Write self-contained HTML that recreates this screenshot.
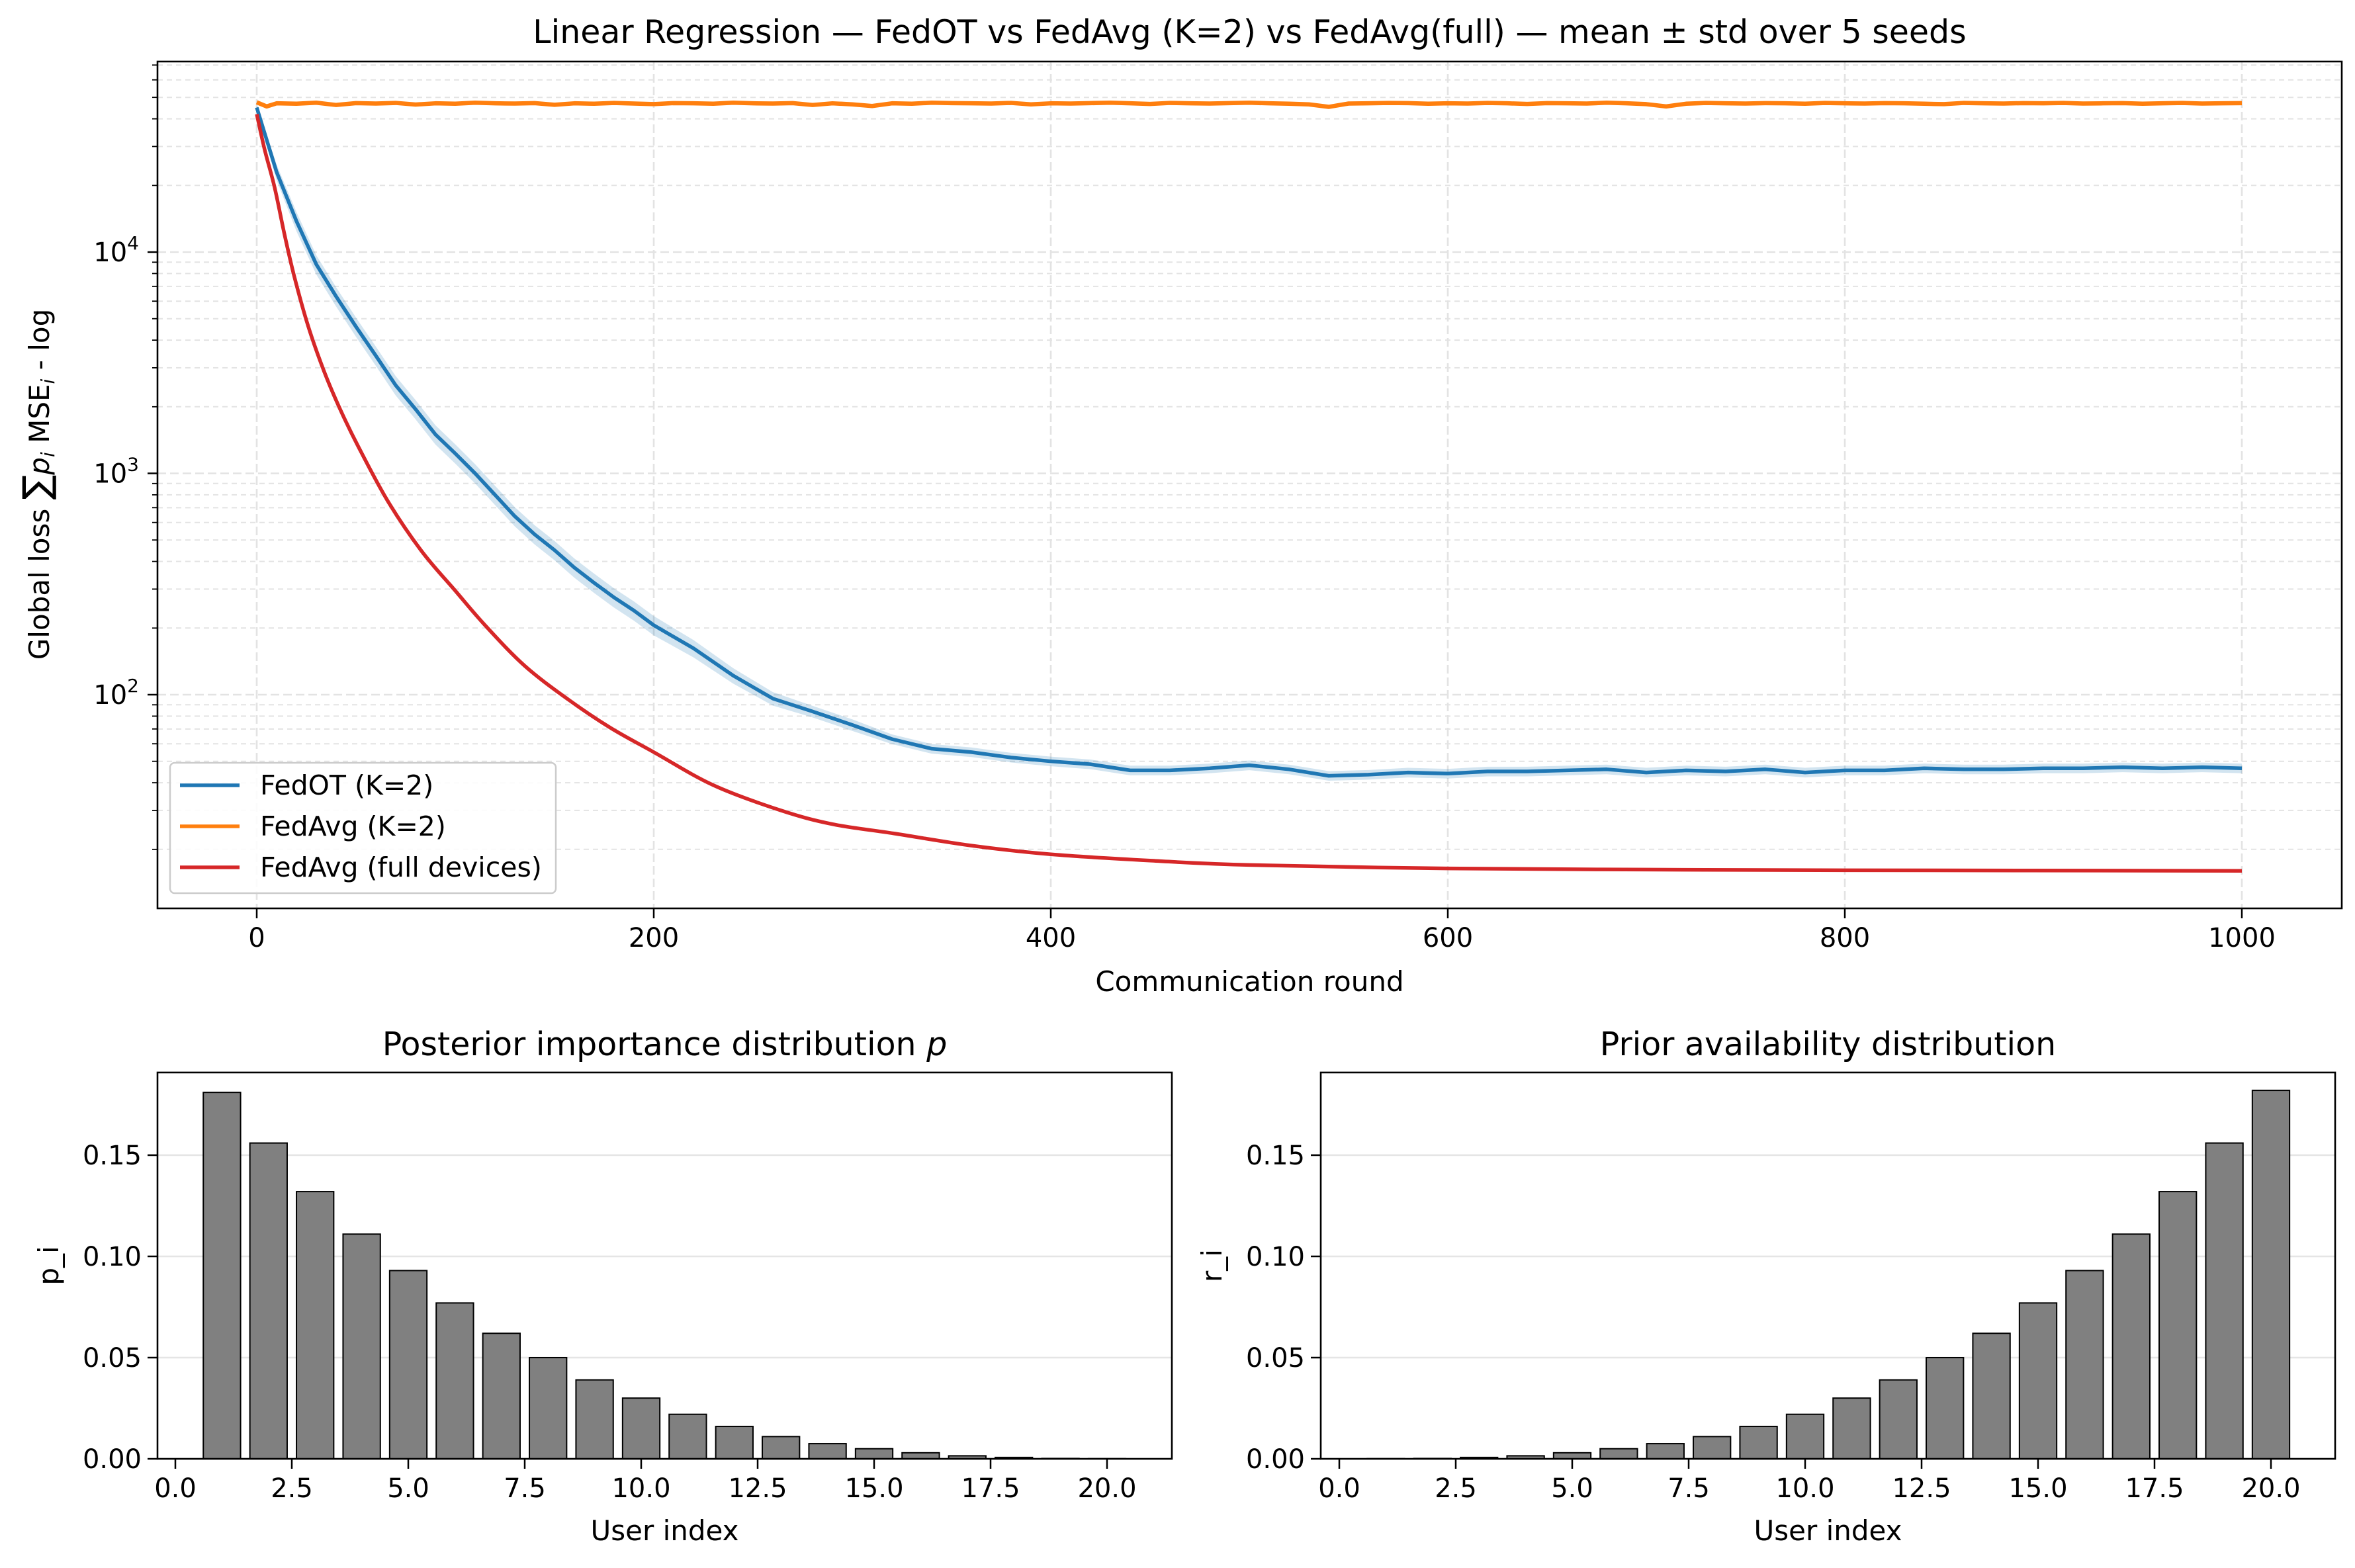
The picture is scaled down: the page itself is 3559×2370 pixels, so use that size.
<!DOCTYPE html>
<html><head><meta charset="utf-8"><style>
html,body{margin:0;padding:0;background:#fff}
svg text{font-family:"DejaVu Sans","Liberation Sans",sans-serif;fill:#000}
</style></head><body>
<svg id="fig" xmlns="http://www.w3.org/2000/svg" width="3559" height="2365" viewBox="0 0 3559 2365">
<rect width="3559" height="2365" fill="#fff"/>
<g id="top"></g>
<g id="bl"></g>
<g id="br"></g>
</svg>
<script>
// ---- top chart data ----
const fedotRounds = [0,10,20,30,40,50,60,70,80,90,100,110,120,130,140,150,160,170,180,190,200,220,240,260,280,300,320,340,360,380,400,420,440,460,480,500,520,540,560,580,600,620,640,660,680,700,720,740,760,780,800,820,840,860,880,900,920,940,960,980,1000];
const fedotMean = [45000,23000,13800,8800,6300,4600,3400,2500,1950,1500,1230,1000,800,640,530,450,375,320,275,240,206,162,122,96,84,73,63,57,55,52,50,48.5,45.5,45.5,46.5,48,46,43,43.5,44.5,44,45,45,45.5,46,44.5,45.5,45,46,44.5,45.5,45.5,46.5,46,46,46.5,46.5,47,46.5,47,46.5];
const fedotStdFrac = [0.04,0.08,0.1,0.1,0.1,0.1,0.1,0.1,0.1,0.1,0.1,0.1,0.1,0.1,0.1,0.1,0.1,0.1,0.1,0.1,0.1,0.09,0.08,0.07,0.06,0.06,0.05,0.05,0.05,0.05,0.05,0.05,0.05,0.05,0.05,0.05,0.05,0.05,0.05,0.05,0.05,0.05,0.05,0.05,0.05,0.05,0.05,0.05,0.05,0.05,0.05,0.05,0.05,0.05,0.05,0.05,0.05,0.05,0.05,0.05,0.05];
const avgRounds = [0,5,10,20,30,40,50,60,70,80,90,100,110,120,130,140,150,160,170,180,190,200,210,220,230,240,250,260,270,280,290,300,310,320,330,340,350,360,370,380,390,400,410,420,430,440,450,460,470,480,490,500,510,520,530,540,550,560,570,580,590,600,610,620,630,640,650,660,670,680,690,700,710,720,730,740,750,760,770,780,790,800,810,820,830,840,850,860,870,880,890,900,910,920,930,940,950,960,970,980,990,1000];
const avgMean = [47500,45500,47000,46800,47300,46200,47100,46900,47200,46400,47000,46800,47300,47000,46900,47100,46300,47000,46800,47200,46900,46600,47100,47000,46800,47300,47000,46900,47100,46200,47000,46500,45700,47000,46800,47300,47100,47000,46900,47200,46500,47000,46900,47100,47300,47000,46700,47200,47000,46900,47100,47300,47000,46800,46500,45300,46900,47000,47200,47100,46800,47000,46900,47200,47000,46700,47100,47000,46900,47300,47000,46600,45500,46800,47200,47000,46900,47100,47000,46800,47200,47000,46900,47100,47000,46800,46600,47200,47000,46900,47100,47000,47200,46900,47000,47100,46800,47000,47200,46900,47000,47100];
const fullRounds = [0,4,9,14,19,26,34,42,51,66,83,100,115,135,157,178,200,230,264,290,321,360,400,450,500,600,700,800,1000];
const fullMean = [42000,29000,19600,12000,7700,4600,2880,1950,1330,750,446,295,206,135,95,71,55,39,30,26,23.6,20.8,19.0,17.8,17.0,16.4,16.2,16.1,16.0];
const xTicks = [0,200,400,600,800,1000];
const yTickExp = [2,3,4];
// ---- bar data ----
const users = [1,2,3,4,5,6,7,8,9,10,11,12,13,14,15,16,17,18,19,20];
const pVals = [0.181,0.156,0.132,0.111,0.093,0.077,0.062,0.050,0.039,0.030,0.022,0.016,0.011,0.0075,0.005,0.003,0.0015,0.0007,0.0002,0.0001];
const rVals = [0.0001,0.0002,0.0007,0.0015,0.003,0.005,0.0075,0.011,0.016,0.022,0.030,0.039,0.050,0.062,0.077,0.093,0.111,0.132,0.156,0.182];
const barYTicks = [0.00,0.05,0.10,0.15];
const barXTicks = [0,2.5,5,7.5,10,12.5,15,17.5,20];

const NS="http://www.w3.org/2000/svg";
function mk(parent,tag,attrs,txt){const e=document.createElementNS(NS,tag);for(const k in attrs)e.setAttribute(k,attrs[k]);if(txt!==undefined)e.textContent=txt;parent.appendChild(e);return e;}

// ===== TOP =====
const T=document.getElementById('top');
const L=238,R=3539,TOP=93,BOT=1373;
const X=r=>388+r*3.0;
const Y=v=>381-(Math.log10(v)-4)*334.5;
for(let e=1;e<=4;e++){for(let m=1;m<=9;m++){const v=m*Math.pow(10,e);const y=Y(v);if(y<TOP||y>BOT)continue;
 const g=mk(T,'line',{x1:L,x2:R,y1:y,y2:y,stroke:'#e3e3e3','stroke-width':m===1?2.6:2,'stroke-dasharray':m===1?'13,6':'8,6'});
 
 
 const t=mk(T,'line',{x1:L,x2:L-(m===1?15:8),y1:y,y2:y,stroke:'#000','stroke-width':m===1?2.5:1.8});
 
 
}}
xTicks.forEach(r=>{const x=X(r);
 const g=mk(T,'line',{x1:x,x2:x,y1:TOP,y2:BOT,stroke:'#e3e3e3','stroke-width':2.6,'stroke-dasharray':'13,6'});
 
 
 const t=mk(T,'line',{x1:x,x2:x,y1:BOT,y2:BOT+15,stroke:'#000','stroke-width':2.5});
 
 
 const l=mk(T,'text',{x:x,y:BOT+58,'font-size':40,'text-anchor':'middle'},String(r));
 
 
});
yTickExp.forEach(e=>{const y=Y(Math.pow(10,e));
 const l=mk(T,'text',{x:L-28,y:y+14,'font-size':40,'text-anchor':'end'});
 
 
 mk(l,'tspan',{},'10');mk(l,'tspan',{dy:-18,'font-size':28},String(e));
});
function smooth(pts){let d='M'+pts[0][0]+','+pts[0][1];
 for(let i=0;i<pts.length-1;i++){const p0=pts[Math.max(0,i-1)],p1=pts[i],p2=pts[i+1],p3=pts[Math.min(pts.length-1,i+2)];
  const c1=[p1[0]+(p2[0]-p0[0])/6,p1[1]+(p2[1]-p0[1])/6],c2=[p2[0]-(p3[0]-p1[0])/6,p2[1]-(p3[1]-p1[1])/6];
  d+='C'+c1[0]+','+c1[1]+' '+c2[0]+','+c2[1]+' '+p2[0]+','+p2[1];}
 return d;}
// band
let up='',dn='';
fedotRounds.forEach((r,i)=>{up+=(i?'L':'M')+X(r)+','+Y(fedotMean[i]*(1+fedotStdFrac[i]));});
for(let i=fedotRounds.length-1;i>=0;i--){dn+='L'+X(fedotRounds[i])+','+Y(fedotMean[i]*(1-fedotStdFrac[i]));}
const band=mk(T,'path',{d:up+dn+'Z',fill:'#1f77b4','fill-opacity':0.2});


function line(rs,vs,color,name,w,sm){const pts=rs.map((r,i)=>[X(r),Y(vs[i])]);
 const d=sm?smooth(pts):pts.map((p,i)=>(i?'L':'M')+p[0]+','+p[1]).join('');
 const p=mk(T,'path',{d:d,fill:'none',stroke:color,'stroke-width':w,'stroke-linejoin':'round'});
 
 }
line(avgRounds,avgMean,'#ff7f0e','fedavg-k2-line',6.5,false);
line(fedotRounds,fedotMean,'#1f77b4','fedot-line',5.5,false);
line(fullRounds,fullMean,'#d62728','fedavg-full-line',5.5,true);
const fr=mk(T,'rect',{x:L,y:TOP,width:R-L,height:BOT-TOP,fill:'none',stroke:'#000','stroke-width':2.6});


const title=mk(T,'text',{x:(L+R)/2,y:65,'font-size':49,'text-anchor':'middle'},'Linear Regression — FedOT vs FedAvg (K=2) vs FedAvg(full) — mean ± std over 5 seeds');


const xl=mk(T,'text',{x:(L+R)/2,y:1498,'font-size':42,'text-anchor':'middle'},'Communication round');


const yl=mk(T,'text',{x:0,y:0,'font-size':42,'text-anchor':'middle',transform:'translate(74,732) rotate(-90)'});


mk(yl,'tspan',{},'Global loss ');mk(yl,'tspan',{'font-size':56},'∑');mk(yl,'tspan',{'font-style':'italic','font-size':42},'p');mk(yl,'tspan',{'font-size':28,'font-style':'italic',dy:8},'i');mk(yl,'tspan',{dy:-8},' MSE');mk(yl,'tspan',{'font-size':28,'font-style':'italic',dy:8},'i');mk(yl,'tspan',{dy:-8},' - log');
// legend
const lg=mk(T,'g',{});


mk(lg,'rect',{x:257,y:1153,width:583,height:197,rx:7,fill:'#fff','fill-opacity':0.85,stroke:'#ccc','stroke-width':2.5});
[['FedOT (K=2)','#1f77b4',1187],['FedAvg (K=2)','#ff7f0e',1249],['FedAvg (full devices)','#d62728',1311]].forEach(([t,c,y])=>{
 const e=mk(lg,'g',{});
 
 
 mk(e,'line',{x1:272,x2:362,y1:y,y2:y,stroke:c,'stroke-width':5.5});
 mk(e,'text',{x:393,y:y+14,'font-size':41},t);
});

// ===== BAR CHARTS =====
function barChart(gid,x0,axL,vals,ttl,ylab,ylabName){
 const G=document.getElementById(gid);
 const BT=1621,BB=2205,aR=axL+1533;
 const XB=i=>x0+i*70.4;const YB=v=>BB-v*3060;
 barYTicks.forEach(v=>{const y=YB(v);
  if(v>0){const g=mk(G,'line',{x1:axL,x2:aR,y1:y,y2:y,stroke:'#e5e5e5','stroke-width':2.5});
  
  }
  const t=mk(G,'line',{x1:axL,x2:axL-15,y1:y,y2:y,stroke:'#000','stroke-width':2.5});
  
  
  const l=mk(G,'text',{x:axL-24,y:y+14,'font-size':40,'text-anchor':'end'},v.toFixed(2));
  
  
 });
 barXTicks.forEach(v=>{const x=XB(v);
  const t=mk(G,'line',{x1:x,x2:x,y1:BB,y2:BB+15,stroke:'#000','stroke-width':2.5});
  
  
  const l=mk(G,'text',{x:x,y:BB+58,'font-size':40,'text-anchor':'middle'},v.toFixed(1));
  
  
 });
 users.forEach((u,i)=>{const y=YB(vals[i]);
  const b=mk(G,'rect',{x:XB(u-0.4),y:y,width:0.8*70.4,height:BB-y,fill:'#808080',stroke:'#000','stroke-width':2});
  
  
 });
 const fr=mk(G,'rect',{x:axL,y:BT,width:aR-axL,height:BB-BT,fill:'none',stroke:'#000','stroke-width':2.6});
 
 
 const t=mk(G,'text',{x:(axL+aR)/2,y:1595,'font-size':49,'text-anchor':'middle'});
 
 
 t.innerHTML=ttl;
 const xl=mk(G,'text',{x:(axL+aR)/2,y:2328,'font-size':42,'text-anchor':'middle'},'User index');
 
 
 const yl=mk(G,'text',{x:0,y:0,'font-size':42,'text-anchor':'middle',transform:'translate('+(axL-150)+',1913) rotate(-90)'},ylab);
 
 
}
barChart('bl',265,238,pVals,'Posterior importance distribution <tspan font-style="italic">p</tspan>','p_i','y-axis-title');
barChart('br',2024,1996,rVals,'Prior availability distribution','r_i','y-axis-title');
</script>
</body></html>
